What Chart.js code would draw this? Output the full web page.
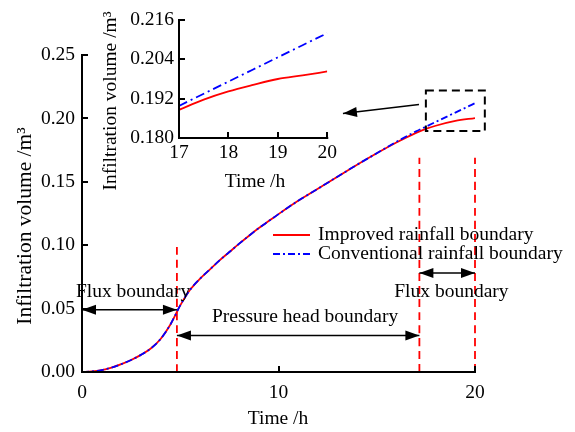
<!DOCTYPE html>
<html>
<head>
<meta charset="utf-8">
<script src="https://cdn.jsdelivr.net/npm/chart.js@4.4.0/dist/chart.umd.min.js"></script>
<style>
  html, body { margin: 0; padding: 0; background: #fff; }
  #wrap { position: relative; width: 575px; height: 432px; }
  #main { position: absolute; left: 0; top: 0; }
  #inset { position: absolute; left: 90px; top: 0; }
</style>
</head>
<body>
<div id="wrap">
  <canvas id="main" width="575" height="432"></canvas>
  <canvas id="inset" width="250" height="200"></canvas>
</div>
<script>
// main plot (0-20 h)
const time = [0, 0.5, 1, 1.5, 2, 2.5, 3, 3.5, 4, 4.5, 5, 5.5, 6, 6.5, 7, 7.5, 8, 8.5, 9, 9.5, 10, 11, 12, 13, 14, 15, 16, 17, 17.5, 18, 19, 20];
const improved = [0, 0.0004, 0.0015, 0.0035, 0.0062, 0.0095, 0.0135, 0.0185, 0.026, 0.0375, 0.0525, 0.0648, 0.0735, 0.0808, 0.088, 0.0946, 0.1012, 0.1075, 0.1135, 0.119, 0.1245, 0.135, 0.1445, 0.154, 0.1635, 0.1725, 0.181, 0.1886, 0.1917, 0.1942, 0.198, 0.2003];
const conventional = [0, 0.0004, 0.0015, 0.0035, 0.0062, 0.0095, 0.0135, 0.0185, 0.026, 0.0375, 0.0525, 0.0648, 0.0735, 0.0808, 0.088, 0.0946, 0.1012, 0.1075, 0.1135, 0.119, 0.1245, 0.135, 0.1445, 0.154, 0.1635, 0.1725, 0.1815, 0.1898, 0.1935, 0.1972, 0.2046, 0.212];

// zoomed window (17-20 h)
const insetTime = [17, 17.5, 18, 18.5, 19, 19.5, 20];
const insetImproved = [0.1886, 0.1917, 0.1942, 0.1962, 0.198, 0.1991, 0.2003];
const insetConventional = [0.1898, 0.1935, 0.1972, 0.2009, 0.2046, 0.2083, 0.212];

const xTicks = [0, 10, 20];
const yTicks = [0, 0.05, 0.10, 0.15, 0.20, 0.25];
const insetXTicks = [17, 18, 19, 20];
const insetYTicks = [0.180, 0.192, 0.204, 0.216];

// times where the boundary type switches, and how high each marker goes
const switchTimes = [4.83, 17.17, 20];
const switchTops = [0.1, 0.169, 0.169];

const RED = "#ff0000";
const BLUE = "#0000ff";
const FONT = "Liberation Serif";
const FS = 19.5;
const pts = (xs, ys) => xs.map((x, i) => ({ x, y: ys[i] }));

// axis lines + ticks pointing inward, like the original figure
const innerAxes = {
  id: "innerAxes",
  afterDraw(chart) {
    const { ctx, chartArea: a, scales } = chart;
    ctx.save();
    ctx.strokeStyle = "#000";
    ctx.lineWidth = 2;
    ctx.lineCap = "square";
    ctx.beginPath();
    ctx.moveTo(a.left, a.top);
    ctx.lineTo(a.left, a.bottom);
    ctx.lineTo(a.right, a.bottom);
    ctx.stroke();
    ctx.lineCap = "butt";
    scales.x.ticks.forEach(t => {
      const px = Math.round(scales.x.getPixelForValue(t.value));
      ctx.beginPath();
      ctx.moveTo(px, a.bottom);
      ctx.lineTo(px, a.bottom - 6);
      ctx.stroke();
    });
    scales.y.ticks.forEach(t => {
      const py = Math.round(scales.y.getPixelForValue(t.value));
      ctx.beginPath();
      ctx.moveTo(a.left, py);
      ctx.lineTo(a.left + 6, py);
      ctx.stroke();
    });
    ctx.restore();
  }
};

const axisTitles = {
  id: "axisTitles",
  afterDraw(chart, args, opts) {
    const ctx = chart.ctx;
    ctx.save();
    ctx.fillStyle = "#000";
    ctx.textAlign = "center";
    ctx.textBaseline = "middle";
    ctx.font = FS + "px " + FONT;
    ctx.fillText(opts.x.text, opts.x.cx, opts.x.cy);
    ctx.font = opts.y.size + "px " + FONT;
    ctx.translate(opts.y.cx, opts.y.cy);
    ctx.rotate(-Math.PI / 2);
    ctx.fillText(opts.y.text, 0, 0);
    ctx.restore();
  }
};

function arrowHead(ctx, x, y, ang) {
  const len = 14, half = 5;
  ctx.beginPath();
  ctx.moveTo(x, y);
  ctx.lineTo(x - len * Math.cos(ang) + half * Math.sin(ang), y - len * Math.sin(ang) - half * Math.cos(ang));
  ctx.lineTo(x - len * Math.cos(ang) - half * Math.sin(ang), y - len * Math.sin(ang) + half * Math.cos(ang));
  ctx.closePath();
  ctx.fill();
}

// boundary arrows, labels, zoom box and the hand-drawn legend
const annotate = {
  id: "annotate",
  afterDatasetsDraw(chart, args, opts) {
    const { ctx, scales: { x, y } } = chart;
    const px = v => x.getPixelForValue(v);
    const py = v => y.getPixelForValue(v);
    ctx.save();
    ctx.strokeStyle = "#000";
    ctx.fillStyle = "#000";
    ctx.lineWidth = 1.5;

    opts.arrows.forEach(a => {
      const x1 = px(a.from[0]), y1 = py(a.from[1]);
      const x2 = px(a.to[0]), y2 = py(a.to[1]);
      const ang = Math.atan2(y2 - y1, x2 - x1);
      ctx.beginPath();
      ctx.moveTo(x1, y1);
      ctx.lineTo(x2, y2);
      ctx.stroke();
      arrowHead(ctx, x2, y2, ang);
      if (a.both) arrowHead(ctx, x1, y1, ang + Math.PI);
    });

    const b = opts.box;
    ctx.setLineDash([8, 5]);
    ctx.lineWidth = 2;
    ctx.strokeRect(px(b.x0), py(b.y1), px(b.x1) - px(b.x0), py(b.y0) - py(b.y1));
    ctx.setLineDash([]);

    ctx.font = FS + "px " + FONT;
    ctx.textAlign = "center";
    ctx.textBaseline = "middle";
    opts.labels.forEach(l => ctx.fillText(l.text, px(l.at[0]), py(l.at[1])));

    // legend
    const lg = opts.legend;
    ctx.textAlign = "left";
    lg.items.forEach((it, i) => {
      const ly = lg.top + i * lg.gap;
      ctx.strokeStyle = it.color;
      ctx.lineWidth = 1.8;
      ctx.setLineDash(it.dash);
      ctx.beginPath();
      ctx.moveTo(lg.left, ly);
      ctx.lineTo(lg.left + 37, ly);
      ctx.stroke();
      ctx.setLineDash([]);
      ctx.fillText(it.text, lg.left + 45, ly);
    });
    ctx.restore();
  }
};

const tickFont = { family: FONT, size: FS };

const mainSets = [
  {
    label: "Conventional rainfall boundary",
    data: pts(time, conventional),
    borderColor: BLUE,
    borderWidth: 1.8,
    borderDash: [7, 3, 2, 3],
    order: 0
  },
  {
    label: "Improved rainfall boundary",
    data: pts(time, improved),
    borderColor: RED,
    borderWidth: 1.8,
    order: 1
  }
];
switchTimes.forEach((t, i) => {
  mainSets.push({
    label: "switch" + i,
    data: [{ x: t, y: 0 }, { x: t, y: switchTops[i] }],
    borderColor: RED,
    borderWidth: 1.8,
    borderDash: [8, 5],
    clip: false,
    order: 2
  });
});

new Chart(document.getElementById("main"), {
  type: "line",
  data: { datasets: mainSets },
  options: {
    responsive: false,
    animation: false,
    layout: { padding: { left: 0, right: 100, top: 55, bottom: 0 } },
    elements: { point: { radius: 0 }, line: { cubicInterpolationMode: "monotone" } },
    plugins: {
      legend: { display: false },
      tooltip: { enabled: false },
      axisTitles: {
        x: { text: "Time /h", cx: 278, cy: 419 },
        y: { text: "Infiltration volume /m³", cx: 25, cy: 226, size: 21.5 }
      },
      annotate: {
        arrows: [
          { from: [0, 0.049], to: [4.83, 0.049], both: true },
          { from: [4.83, 0.0288], to: [17.17, 0.0288], both: true },
          { from: [17.17, 0.078], to: [20, 0.078], both: true },
          { from: [17.15, 0.211], to: [13.28, 0.2038], both: false }
        ],
        labels: [
          { text: "Flux boundary", at: [2.6, 0.0634] },
          { text: "Pressure head boundary", at: [11.35, 0.0435] },
          { text: "Flux boundary", at: [18.8, 0.063] }
        ],
        box: { x0: 17.5, x1: 20.5, y0: 0.19, y1: 0.222 },
        legend: {
          left: 273, top: 235, gap: 19,
          items: [
            { text: "Improved rainfall boundary", color: RED, dash: [] },
            { text: "Conventional rainfall boundary", color: BLUE, dash: [7, 3, 2, 3] }
          ]
        }
      }
    },
    scales: {
      x: {
        type: "linear", min: 0, max: 20,
        afterBuildTicks: s => { s.ticks = xTicks.map(v => ({ value: v })); },
        afterFit: s => { s.height = 60; },
        grid: { display: false, drawTicks: false },
        border: { display: false },
        ticks: { font: tickFont, color: "#000", padding: 9, maxRotation: 0 }
      },
      y: {
        min: 0, max: 0.25,
        afterBuildTicks: s => { s.ticks = yTicks.map(v => ({ value: v })); },
        afterFit: s => { s.width = 82; },
        grid: { display: false, drawTicks: false },
        border: { display: false },
        ticks: { font: tickFont, color: "#000", padding: 7, callback: v => v.toFixed(2) }
      }
    }
  },
  plugins: [innerAxes, axisTitles, annotate]
});

new Chart(document.getElementById("inset"), {
  type: "line",
  data: {
    datasets: [
      {
        data: pts(insetTime, insetConventional),
        borderColor: BLUE,
        borderWidth: 1.8,
        borderDash: [9, 4, 2, 4],
        order: 0
      },
      {
        data: pts(insetTime, insetImproved),
        borderColor: RED,
        borderWidth: 1.8,
        order: 1
      }
    ]
  },
  options: {
    responsive: false,
    animation: false,
    layout: { padding: { left: 0, right: 11, top: 20, bottom: 0 } },
    elements: { point: { radius: 0 }, line: { cubicInterpolationMode: "monotone" } },
    plugins: {
      legend: { display: false },
      tooltip: { enabled: false },
      axisTitles: {
        x: { text: "Time /h", cx: 165, cy: 182 },
        y: { text: "Infiltration volume /m³", cx: 21, cy: 101, size: FS }
      }
    },
    scales: {
      x: {
        type: "linear", min: 17, max: 20,
        afterBuildTicks: s => { s.ticks = insetXTicks.map(v => ({ value: v })); },
        afterFit: s => { s.height = 62; },
        grid: { display: false, drawTicks: false },
        border: { display: false },
        ticks: { font: tickFont, color: "#000", padding: 3, maxRotation: 0 }
      },
      y: {
        min: 0.18, max: 0.216,
        afterBuildTicks: s => { s.ticks = insetYTicks.map(v => ({ value: v })); },
        afterFit: s => { s.width = 89; },
        grid: { display: false, drawTicks: false },
        border: { display: false },
        ticks: { font: tickFont, color: "#000", padding: 5, callback: v => v.toFixed(3) }
      }
    }
  },
  plugins: [innerAxes, axisTitles]
});
</script>
</body>
</html>
